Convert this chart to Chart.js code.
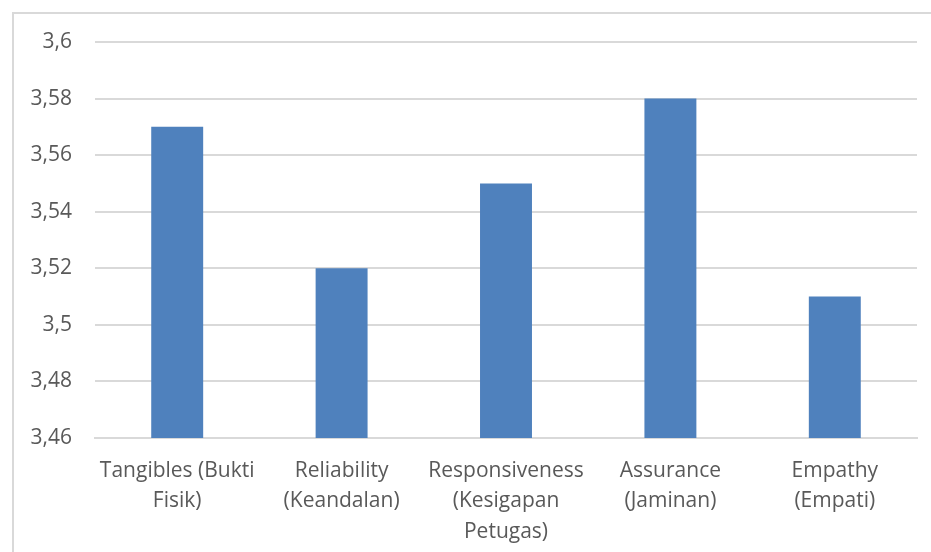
<!DOCTYPE html>
<html>
<head>
<meta charset="utf-8">
<script src="https://cdn.jsdelivr.net/npm/chart.js@4.4.0/dist/chart.umd.min.js"></script>
<style>
  html, body { margin: 0; padding: 0; background: #fff; overflow: hidden; }
  #wrap { position: absolute; left: 0; top: 0; width: 931px; height: 552px; }
  #frame {
    position: absolute; left: 12px; top: 12px; width: 1000px; height: 1000px;
    border: 2px solid #d9d9d9; pointer-events: none;
  }
</style>
</head>
<body>
<div id="wrap"><canvas id="chart" width="931" height="552"></canvas></div>
<div id="frame"></div>
<script>
// categories (multi-line labels as in the original)
const categories = [
  ["Tangibles (Bukti", "Fisik)"],
  ["Reliability", "(Keandalan)"],
  ["Responsiveness", "(Kesigapan", "Petugas)"],
  ["Assurance", "(Jaminan)"],
  ["Empathy", "(Empati)"]
];
const values = [3.57, 3.52, 3.55, 3.58, 3.51];

// y axis range
const yMin = 3.46;
const yMax = 3.6;
const yStep = 0.02;

function formatTick(v) {
  return String(Number(v.toFixed(2))).replace(".", ",");
}

function initChart() {
  const ctx = document.getElementById("chart");

  new Chart(ctx, {
    type: "bar",
    data: {
      labels: categories,
      datasets: [
        {
          data: values,
          backgroundColor: "#4f81bd",
          borderWidth: 0,
          barPercentage: 1,
          categoryPercentage: 0.316,
        },
      ],
    },
    options: {
      responsive: false,
      animation: false,
      layout: { padding: { left: 0, top: 42, right: 14, bottom: 0 } },
      plugins: { legend: { display: false }, tooltip: { enabled: false } },
      scales: {
        x: {
          grid: { display: false },
          border: { color: "#d9d9d9", width: 2 },
          ticks: {
            color: "#595959",
            font: { family: "'Open Sans', sans-serif", size: 21, lineHeight: 1.44 },
            padding: 10,
            maxRotation: 0,
            autoSkip: false,
          },
          afterFit: (scale) => { scale.height = 114; },
        },
        y: {
          min: yMin,
          max: yMax,
          grid: { color: "#d9d9d9", lineWidth: 2, drawTicks: false },
          border: { display: false },
          ticks: {
            stepSize: yStep,
            color: "#595959",
            font: { family: "'Open Sans', sans-serif", size: 21 },
            padding: 23,
            callback: (v) => formatTick(v),
          },
          afterFit: (scale) => { scale.width = 95; },
        },
      },
    },
  });
}

initChart();
</script>
</body>
</html>
